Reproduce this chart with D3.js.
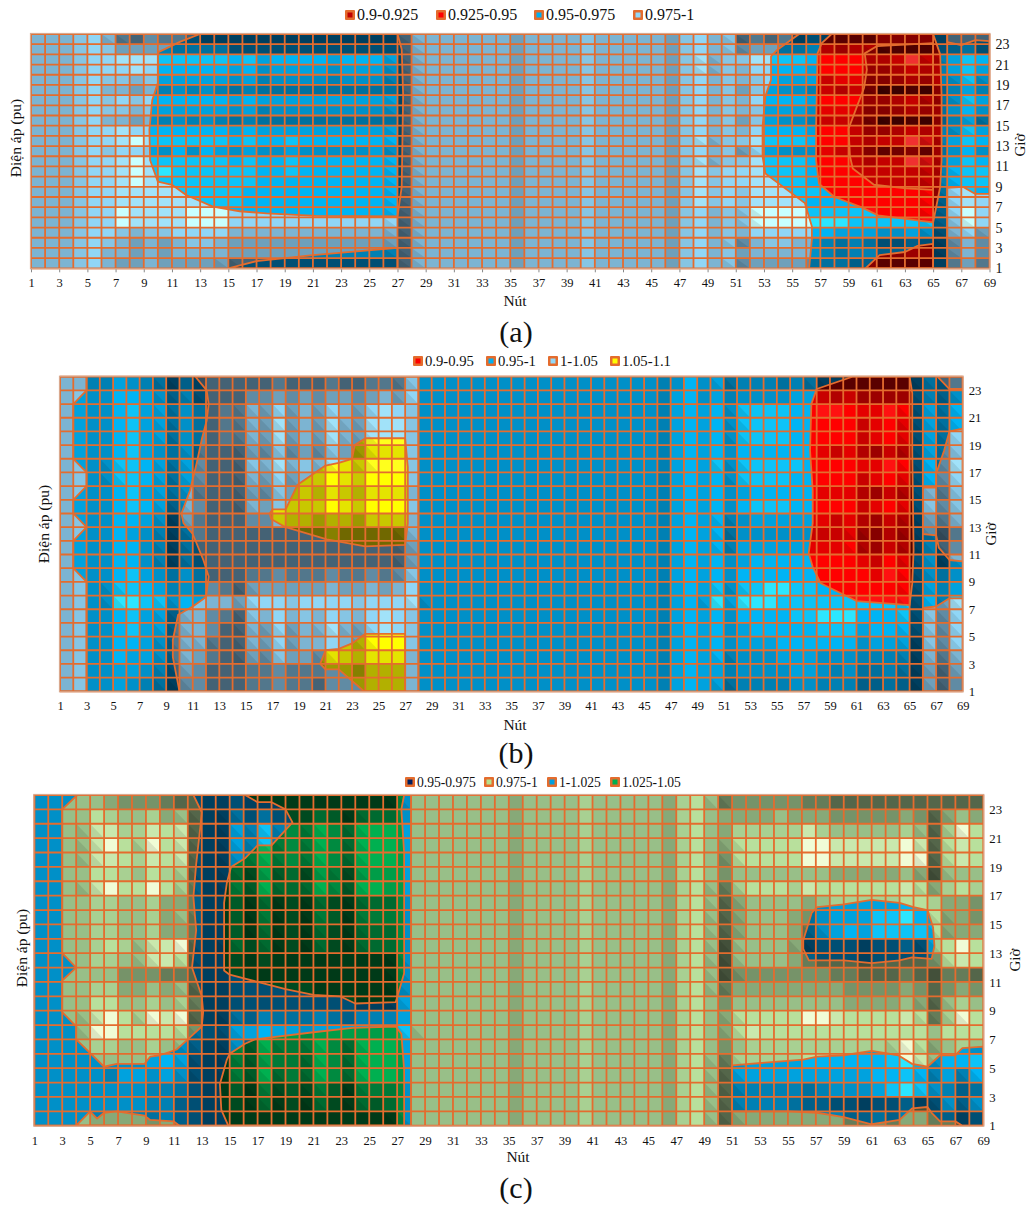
<!DOCTYPE html>
<html><head><meta charset="utf-8">
<style>html,body{margin:0;padding:0;background:#fff}svg{display:block}text{font-family:"Liberation Serif","Times New Roman",serif;fill:#111}</style>
<script src="https://cdn.jsdelivr.net/npm/d3@7"></script></head><body><svg id="c" width="1032" height="1210"></svg>
<script>
const nodeTicks = [1,3,5,7,9,11,13,15,17,19,21,23,25,27,29,31,33,35,37,39,41,43,45,47,49,51,53,55,57,59,61,63,65,67,69];
const hourTicks = [1,3,5,7,9,11,13,15,17,19,21,23];
const titleX = "Nút", titleY = "Điện áp (pu)", titleZ = "Giờ";

const legendA = ["0.9-0.925","0.925-0.95","0.95-0.975","0.975-1"];
const legendB = ["0.9-0.95","0.95-1","1-1.05","1.05-1.1"];
const legendC = ["0.95-0.975","0.975-1","1-1.025","1.025-1.05"];

// Shading: rows from hour 24 down to hour 1, columns node 1 to 68
const shadeA = [
"5556752132 2100000000 0000001555 5555455556 5555546756 1212010000 22220111",
"5556764444 3333111111 1111111555 5555455556 5555546756 3443344344 11111231",
"5556778888 8888786777 7677761555 5555455556 5555546856 6888877776 67974687",
"5556777877 7777675666 6566651555 5555455556 5555546856 5777767775 56764686",
"5556766566 6666564555 5455541555 5555455556 5555546756 5676665664 45654585",
"5556755454 5454343333 3333331555 5555455556 5555546756 4665545453 00102464",
"5556767677 7777676666 6666661555 5555455556 5555546756 5777767775 56763586",
"5556766566 6666564555 5555551555 5555455556 5555546756 5666656664 45653575",
"5556755454 5454343333 3333331555 5555455556 5555546756 4665545553 00102463",
"5556778777 7777676666 6666661555 5555455556 5555546756 5777767775 56764586",
"5556778988 8888787787 7777771555 5555455556 5555546856 6888877776 77984687",
"5556767765 7576565565 5555651555 5555455556 5555546756 4765556564 23423575",
"5556778988 8888787787 7777771555 5555455556 5555546856 6888877776 77984687",
"5556778989 8888887787 7777771555 5555455556 5555546867 7888877777 77774788",
"5556778988 8888887777 7777771555 5555455556 5555546867 7888877777 77774788",
"5556778888 8888877777 7777771555 5555455556 5555546867 6888887777 77773787",
"5556778888 8888877777 7777771555 5555455556 5555546867 6888877777 77772787",
"5556779888 8999777777 7777771555 5555455556 5555546756 6999988888 77772797",
"5556779888 8999777777 7777771555 5555455556 5555546756 6999999988 88882697",
"5556776566 7777555555 5555551555 5555455556 5555546756 5777777666 55651574",
"5556765454 5665444444 4444441555 5555455556 5555546756 3566554343 11210353",
"5556755454 5555444444 4444441555 5555455556 5555546756 4555554344 22320353",
"5556754454 4444111111 1111111555 5555455556 5555546756 3444433322 00000242"
];
const shadeB = [
"5544654302 0111112111 2112226555 5555555555 5555545756 3444343000 00000312",
"5655776524 1111334343 4434547555 5555555555 5555546756 4555566545 33331425",
"5655786635 3122547454 7547876555 5555555555 5555546767 5888877887 66871637",
"5655786635 3122548454 8548886555 5555555555 5555546767 5888877777 56761637",
"5655786635 3122548454 8548886555 5555555555 5555546767 5888877777 56761637",
"5655786535 2111436343 6436666555 5555555555 5555546767 5777777656 43541636",
"5655887636 3111658565 8658886555 5555555555 5555546768 5888887777 66871738",
"5655887636 3111547455 7657776555 5555555555 5555546767 5888877777 56761737",
"5655786635 2111436454 6546665555 5555555555 5555546767 5677777666 43541526",
"5655787625 3111546555 7657776555 5555555555 5555546767 5788877777 56761636",
"5655776504 2111335443 4435555555 5555555555 5555546767 4566666656 43540425",
"5655765403 2111111111 2111115555 5555555555 5555546767 3555555556 32430302",
"5655775403 1111111111 1111114555 5555555555 5555546767 4666666667 43540413",
"5655775403 1111111111 1111114555 5555555555 5555546767 5677777777 65761505",
"5655786535 3111223222 3223236555 5555555555 5555546767 5777777777 76871535",
"5655887645 4321444444 5445457555 5555555555 5555546768 5889988777 77771646",
"5655998857 6554777677 7767778555 5555555555 5555546769 6999888888 88881748",
"5655786625 5321657565 7657876555 5555555555 5555546767 5777788999 77781637",
"5655786625 5311547455 8547876555 5555555555 5555546767 5677777888 67771637",
"5655776525 5211547455 7547776555 5555555555 5555546767 5666777777 56660637",
"5655766525 4211436443 6546665555 5555555555 5555546767 4555666555 44440525",
"5655665414 3111223222 3324445555 5555555555 5555546766 4555566545 33430414",
"5655654303 3111223221 3334445555 5555555555 5555546766 3444455444 22320413"
];
const shadeC = [
"5555543332 1100100000 0000005555 5555455556 5555546752 3333322111 11111111",
"5555765564 5100313111 3203335555 5555455556 5555546754 4445444333 33431454",
"5555886687 8100648454 7537776555 5555455556 5555546754 6666686555 55651697",
"5555897697 8100648454 7537776555 5555455556 5555546754 7777799888 88981787",
"5555887687 8100547454 7537776555 5555455556 5555546753 7777799888 88991787",
"5555776576 6100316231 6416666555 5555455556 5555546753 5555555444 44540555",
"5555897797 6200427333 7527766555 5555455556 5555546752 6777687777 77874676",
"5555665564 4200203010 3103335555 5555455556 5555546751 4555545666 66776443",
"5555665564 5200204010 4204445555 5555455556 5555546751 4555435666 88977443",
"5555665564 4200203010 3103335555 5555455556 5555546751 4555425676 88887444",
"5555676588 9100313010 3103335555 5555455556 5555546750 5555401110 11216797",
"5555665588 7100101000 0000005555 5555455556 5555546750 5555421110 11113787",
"5555553332 2100100000 0000005555 5555455556 5555546750 3333333221 11210221",
"5555664454 5100111111 0000005555 5555455556 5555546752 4444444433 33431343",
"5555775565 6200111111 1110006555 5555455556 5555546753 5555555544 44541565",
"5555897698 9100324333 4324446555 5555455556 5555546754 7777799877 77872697",
"5555997777 7311667665 6666668555 5555455556 5555546754 7877777777 77775777",
"5555665565 5200527444 7537776555 5555455556 5555546753 5666666666 66974565",
"5555555567 6100426443 7537776555 5555455556 5555546752 6666677777 78985778",
"5555546656 5100427343 7537776555 5555455556 5555546751 6666666666 77874647",
"5555555544 3100204121 4204445555 5555455556 5555546751 4444434555 68985423",
"5555555544 2100103010 3103235555 5555455556 5555546751 4444322110 11201525",
"5555444434 2100000000 0000005555 5555455556 5555546751 4444444422 32442201"
];

// Band boundaries in data units [node, hour]
const aBlue = [
 [[13,24],[11.6,23.25],[10,22.2],[10,19.2],[9.6,17.5],[9.4,14.6],[9.45,11.6],[10,9.5],[11,9.2],[12,8.2],[13.9,7.05],[15.8,6.6],[17.7,6.4],[21.2,6.15],[27,6.1],[27.3,9],[27.4,18],[27.3,22.5],[27,24]],
 [[15,1],[17,1.7],[21,2.3],[27,3],[27,1]],
 [[55.5,24],[53.9,22.4],[53.5,21.8],[53.5,19.5],[53.1,17.9],[52.9,14.9],[52.9,12],[53.1,10.3],[55.9,7.4],[56.4,5.1],[56.4,3.8],[56.2,1],[66,1],[66,8.9],[67.1,9],[68,8.3],[69,8.3],[69,23.3],[68,23.4],[67,22.9],[66,23.2],[66,24]]
];
const aRed = [
 [[57.8,24],[57.1,23.1],[56.8,22.1],[56.7,14.9],[56.7,11.6],[56.9,9.3],[58,8],[59.9,7],[61.1,6.2],[65,5.5],[65.5,9],[65.6,11.6],[65.6,18],[65.5,22],[65,24]],
 [[60.2,1],[61.2,2.3],[63,2.6],[63.9,3.2],[65,3.4],[65,1]]
];
const aDark = [
 [[60.15,22.1],[61,22.8],[65,23.1],[65,8.7],[63.1,8.85],[60.8,9.2],[59.3,10.8],[59.1,12],[59,14.7],[59.6,16.9],[60.1,18.7],[60.3,20.5]]
];
const bSky = [
 [[1,24],[3,24],[3,23],[2,22],[2,18],[3,17],[3,16],[2,15],[2,14],[3,13],[2,12],[2,10],[3,9],[3,1],[1,1]],
 [[11.2,24],[12.05,23],[12.2,22],[12.05,20.8],[11.7,19.5],[11.3,17.7],[10.8,15.7],[10.15,14],[10.3,13.3],[11,12.5],[11.8,10.6],[12.2,9.4],[12,7.9],[11,7.2],[9.9,6.6],[9.5,4.75],[9.5,3.5],[10,1],[28,1],[28,24]],
 [[67.1,24],[68,23.1],[69,23.1],[69,24]],
 [[69,20.2],[68,20],[67.6,18.6],[67,16.9],[67,15.9],[66,15.9],[66,12.5],[67,12.4],[67.2,11.5],[68,10.6],[69,10.5]],
 [[69,7.8],[68,7.8],[67,7.2],[66,7.1],[66,1],[69,1]]
];
const bYellow = [
 [[24,19.5],[27,19.5],[27.2,17.4],[27.2,13.3],[27,11.7],[24,11.6],[21.1,12.1],[18,13],[16.9,13.6],[16.8,14],[17,14.3],[18,14.3],[18.9,16.1],[21,17.5],[22,17.7],[23,18],[23.2,19]],
 [[24,5.2],[27,5.2],[27,1],[23.9,1],[22,2.6],[21,2.6],[20.6,3],[21,4],[22,4.1],[23,4.5]]
];
const bRed = [
 [[60.7,24],[58,23.1],[57.6,22],[57.5,18.6],[57.7,15.7],[57.7,13.3],[57.4,11.1],[57.7,10.1],[58.3,8.9],[61,7.6],[65,7.3],[65.2,8.9],[65.3,11.3],[65.2,18.6],[65.2,22.8],[65,24]]
];
const cBlue = [
 [[1,24],[28,24],[28,1],[1,1]],
 [[56.1,13.9],[56.7,15.8],[57.1,16.2],[59,16.4],[61,16.7],[63,16.5],[64,16.2],[65,16],[65.4,14.8],[65.5,13.5],[65.3,12.6],[63.9,12.7],[63,12.5],[61,12.3],[59,12.5],[57.6,12.5],[56.5,12.5],[56.1,13.3]],
 [[51,5.2],[56.1,5.6],[57.1,5.8],[59,5.9],[61,6.2],[62.9,5.9],[63.9,5.3],[65,5.1],[65.9,5.9],[67,5.9],[67.5,6.4],[69,6.5],[69,1],[67.5,1],[67,1.3],[65.9,1.3],[65.3,1.9],[65,2.3],[63.9,2.2],[63,1.4],[61,1.1],[59,1.6],[57.1,1.9],[55,2],[51,2]]
];
const cIsland = [
 [[4.08,24],[3,23],[3,13],[4,12],[3,11.1],[3,8.9],[4,7.9],[4,7],[6,5.1],[6.9,5.3],[8.9,5.3],[9.3,5.8],[10,5.9],[11.2,6.3],[12,7],[13,7.9],[13.1,8.9],[13,10],[12.3,12],[12.6,14.6],[12.4,16.9],[12.6,19.2],[12.9,21.8],[13,22.8],[12.4,24]],
 [[4,1],[5,2],[5.5,1.5],[6,1.9],[6.9,2],[8.9,1.7],[9.3,1.4],[11,1.3],[11.4,1]]
];
const cGreen = [
 [[16.1,24],[17,23.5],[18,23.5],[19,23],[19.5,22.1],[18,20.5],[17,20.5],[16.1,19.6],[15.1,19],[14.8,17.9],[14.6,16.5],[14.6,11.8],[15,11.5],[17,11],[19,10.5],[21,10.1],[22.9,10],[24,9.5],[26.9,9.6],[27.5,11.6],[27.5,14.1],[27.5,20],[27.3,23],[27.5,24]],
 [[15,6],[16.1,6.7],[16.8,7],[21,7.5],[23.8,7.8],[26.9,7.9],[27.3,7.4],[27.5,4.9],[27.5,1],[14.9,1],[14.4,2.1],[14.3,3.9],[14.8,5.6]]
];

const ramps = {
 darkred:["#3c0000","#960000","#c40000","#f03030"],
 red:["#5a0000","#c80000","#ff0000","#ff3838"],
 blue:["#003f5f","#0090c8","#00b4f4","#2ce6ff"],
 sky:["#364e5e","#7cb4d2","#90d6f6","#c8ffff"],
 yellow:["#5a5000","#c8c800","#ffff00","#ffff60"],
 lime:["#43503a","#98bf88","#b8e09c","#f0fcd6"],
 green:["#003a18","#008a40","#00b050","#30d880"]
};
const ORANGE = "#e46c2e";
const panels = [
 {id:"a", left:31, right:989.5, top:34, bottom:268.3, shade:shadeA, ticks:true, yFont:14, legendFont:16,
  layers:[["sky",null],["blue",aBlue],["red",aRed],["darkred",aDark]],
  legend:legendA, swatch:["#c00000","#ff0000","#00b0f0","#92d8f8"], legendY:15, legendX:[350,441,539,638],
  yt:[16,138], zt:[1021,145], xt:[515,306], tag:[516,342]},
 {id:"b", left:60, right:962.7, top:376.7, bottom:691.3, shade:shadeB, ticks:false, yFont:12.8, legendFont:14.7,
  layers:[["blue",null],["sky",bSky],["yellow",bYellow],["red",bRed]],
  legend:legendB, swatch:["#ff0000","#00b0f0","#92d8f8","#ffff00"], legendY:361, legendX:[418,491,553,615],
  yt:[44,524], zt:[992,534], xt:[515,730], tag:[516,763]},
 {id:"c", left:34.3, right:983.3, top:795, bottom:1125.7, shade:shadeC, ticks:false, yFont:12.8, legendFont:13.6,
  layers:[["lime",null],["blue",cBlue],["lime",cIsland],["green",cGreen]],
  legend:legendC, swatch:["#002060","#b8e08c","#00a0e0","#00b050"], legendY:782, legendX:[410,489,552,615],
  yt:[22,948], zt:[1016,960], xt:[518,1162], tag:[516,1198]}
];
const svg = d3.select("#c");
const nodes = d3.range(1,70), hours = d3.range(1,25);

panels.forEach(p=>{
  const x = d3.scaleLinear().domain([1,69]).range([p.left,p.right]);
  const y = d3.scaleLinear().domain([1,24]).range([p.bottom,p.top]);
  const rows = p.shade.map((s,i)=>{const r=s.replace(/ /g,""); if(r.length!==68) throw new Error(p.id+" row "+(i+1)+" has "+r.length); return r;});
  const cells = [];
  rows.forEach((r,i)=>{ for(let c=0;c<68;c++){
    const v=+r[c], l=c>0?+r[c-1]:v, n=c<67?+r[c+1]:v;
    cells.push({node:c+1,hour:24-i,v,facet:Math.abs(v-l)>=3||Math.abs(v-n)>=3});
  }});
  const line = d3.line().x(d=>x(d[0])).y(d=>y(d[1])).curve(d3.curveLinear);
  const g = svg.append("g");
  p.layers.forEach((ly,k)=>{
    const [band,polys] = ly;
    const r = ramps[band];
    const color = d3.scaleLinear().domain([0,5,7,8,9]).range([r[0],r[1],r[2],d3.interpolateRgb(r[2],r[3])(0.3),r[3]]);
    const lg = g.append("g");
    if(polys){
      const cid = "clip-"+p.id+"-"+k;
      g.append("clipPath").attr("id",cid).append("path").attr("d",polys.map(q=>line(q)+"Z").join(""));
      lg.attr("clip-path","url(#"+cid+")");
    }
    lg.selectAll("rect").data(cells).join("rect")
      .attr("x",d=>x(d.node)).attr("y",d=>y(d.hour))
      .attr("width",d=>x(d.node+1)-x(d.node)+0.3).attr("height",d=>y(d.hour-1)-y(d.hour)+0.3)
      .attr("fill",d=>color(d.v));
    // surface facets: the lower-left half of a cell on a steep step is a little darker
    lg.selectAll("path").data(cells.filter(d=>d.facet)).join("path")
      .attr("d",d=>`M${x(d.node)},${y(d.hour)}L${x(d.node)},${y(d.hour-1)}L${x(d.node+1)},${y(d.hour-1)}Z`)
      .attr("fill","#000").attr("fill-opacity",0.09);
  });
  // grid
  const grid = g.append("g").attr("stroke",ORANGE).attr("stroke-width",1.8);
  grid.selectAll("line.v").data(nodes).join("line").attr("class","v")
    .attr("x1",d=>x(d)).attr("x2",d=>x(d)).attr("y1",p.top).attr("y2",p.bottom);
  grid.selectAll("line.h").data(hours).join("line").attr("class","h")
    .attr("y1",d=>y(d)).attr("y2",d=>y(d)).attr("x1",p.left).attr("x2",p.right);
  // contours
  const plotClip = "plot-"+p.id;
  g.append("clipPath").attr("id",plotClip).append("rect").attr("x",p.left).attr("y",p.top).attr("width",p.right-p.left).attr("height",p.bottom-p.top);
  const cont = g.append("g").attr("clip-path","url(#"+plotClip+")").attr("fill","none").attr("stroke",ORANGE).attr("stroke-width",1.8).attr("stroke-linejoin","round");
  p.layers.forEach(ly=>{ if(ly[1]) cont.selectAll(null).data(ly[1]).join("path").attr("d",q=>line(q)+"Z"); });
  g.append("rect").attr("x",p.left-.5).attr("y",p.top-.5).attr("width",p.right-p.left+1).attr("height",p.bottom-p.top+1)
    .attr("fill","none").attr("stroke","#d9a98e").attr("stroke-width",1.2);
  // axes
  const ax = d3.axisBottom(x).tickValues(nodeTicks).tickFormat(d3.format("d")).tickSize(p.ticks?3:0).tickPadding(p.ticks?6:9);
  const axg = svg.append("g").attr("transform",`translate(0,${p.bottom+1})`).call(ax);
  axg.select(".domain").remove();
  axg.selectAll("line").attr("stroke","#888");
  axg.selectAll("text").style("font-family",'"Liberation Serif"').style("font-size","12.5px");
  const ay = d3.axisRight(y).tickValues(hourTicks).tickFormat(d3.format("d")).tickSize(0).tickPadding(6);
  const ayg = svg.append("g").attr("transform",`translate(${p.right},0)`).call(ay);
  ayg.select(".domain").remove();
  ayg.selectAll("text").style("font-family",'"Liberation Serif"').style("font-size",p.yFont+"px");
  // titles
  svg.append("text").attr("x",p.xt[0]).attr("y",p.xt[1]).attr("text-anchor","middle").attr("font-size",15.5).text(titleX);
  svg.append("text").attr("transform",`translate(${p.yt[0]+5},${p.yt[1]}) rotate(-90)`).attr("text-anchor","middle").attr("font-size",15.5).text(titleY);
  svg.append("text").attr("transform",`translate(${p.zt[0]+4},${p.zt[1]}) rotate(-90)`).attr("text-anchor","middle").attr("font-size",15).text(titleZ);
  svg.append("text").attr("x",p.tag[0]).attr("y",p.tag[1]).attr("text-anchor","middle").attr("font-size",30).text("("+p.id+")");
  // legend
  const lg = svg.append("g").selectAll("g").data(p.legend).join("g").attr("transform",(d,i)=>`translate(${p.legendX[i]},${p.legendY})`);
  lg.append("rect").attr("x",-5).attr("y",-5).attr("width",10).attr("height",10).attr("rx",1).attr("fill",ORANGE);
  lg.append("rect").attr("x",-2.5).attr("y",-2.5).attr("width",5).attr("height",5).attr("fill",(d,i)=>p.swatch[i]);
  lg.append("text").attr("x",7).attr("y",5).attr("font-size",p.legendFont).text(d=>d);
});
</script></body></html>
